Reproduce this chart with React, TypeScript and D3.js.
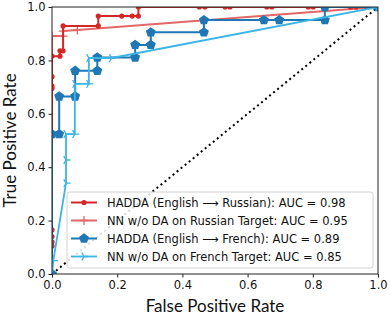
import * as d3 from 'd3';
import React, { useEffect, useRef } from 'react';

// ROC curves: [FPR, TPR]
const haddaRussian: [number, number][] = [
    [0, 0], [0, 0.105], [0, 0.12], [0, 0.14], [0, 0.165], [0, 0.695], [0, 0.704], [0, 0.739],
    [0, 0.816], [0.0245, 0.816], [0.0245, 0.836], [0.034, 0.836], [0.034, 0.929],
    [0.142, 0.929], [0.142, 0.966], [0.214, 0.966], [0.246, 0.966], [0.265, 0.966],
    [0.265, 1], [0.452, 1], [0.469, 1], [0.531, 1], [0.546, 1], [0.659, 1], [0.674, 1],
    [0.786, 1], [0.801, 1], [0.916, 1], [0.933, 1], [0.965, 1], [1, 1]
];
const nnRussian: [number, number][] = [
    [0, 0], [0, 0.891], [0.034, 0.891], [0.034, 0.91], [0.078, 0.914], [1, 1]
];
const haddaFrench: [number, number][] = [
    [0, 0], [0, 0.524], [0.022, 0.524], [0.022, 0.665], [0.071, 0.665], [0.071, 0.761],
    [0.139, 0.761], [0.139, 0.811], [0.255, 0.811], [0.255, 0.858], [0.303, 0.858],
    [0.303, 0.905], [0.466, 0.905], [0.466, 0.951], [0.65, 0.951], [0.697, 0.951],
    [0.837, 0.951], [0.837, 1], [1, 1]
];
const nnFrench: [number, number][] = [
    [0, 0], [0.004, 0.05], [0.043, 0.34], [0.043, 0.427], [0.043, 0.524], [0.07, 0.524],
    [0.07, 0.712], [0.113, 0.712], [0.113, 0.809], [0.183, 0.809], [1, 1]
];

const legendLabels = [
    'HADDA (English \u27F6 Russian): AUC = 0.98',
    'NN w/o DA on Russian Target: AUC = 0.95',
    'HADDA (English \u27F6 French): AUC = 0.89',
    'NN w/o DA on French Target: AUC = 0.85'
];
const ticks = [0, 0.2, 0.4, 0.6, 0.8, 1.0];

type MarkerKind = 'dot' | 'plus' | 'pentagon' | 'tri';

const App: React.FC = () => {
    const svgRef = useRef<SVGSVGElement>(null);

    useEffect(() => {
        if (!svgRef.current) return;
        d3.select(svgRef.current).selectAll('*').remove();

        const width = 390;
        const height = 319;
        const margin = { left: 52, right: 12, top: 7, bottom: 45 };

        const svg = d3.select(svgRef.current)
            .attr('width', width)
            .attr('height', height);

        const x = d3.scaleLinear().domain([0, 1]).range([margin.left, width - margin.right]);
        const y = d3.scaleLinear().domain([0, 1]).range([height - margin.bottom, margin.top]);

        svg.append('defs').append('clipPath')
            .attr('id', 'plot-clip')
            .append('rect')
            .attr('x', x(0)).attr('y', y(1))
            .attr('width', x(1) - x(0)).attr('height', y(0) - y(1));

        const plot = svg.append('g').attr('clip-path', 'url(#plot-clip)');

        // chance diagonal
        plot.append('line')
            .attr('x1', x(0)).attr('y1', y(0))
            .attr('x2', x(1)).attr('y2', y(1))
            .attr('stroke', '#000')
            .attr('stroke-width', 2)
            .attr('stroke-dasharray', '2,3.2');

        const drawMarker = (g: d3.Selection<SVGGElement, unknown, null, undefined>, kind: MarkerKind, cx: number, cy: number, color: string) => {
            if (kind === 'dot') {
                g.append('circle').attr('cx', cx).attr('cy', cy).attr('r', 2.6).attr('fill', color);
            } else if (kind === 'pentagon') {
                const r = 5.2;
                const pts = d3.range(5).map(i => {
                    const a = -Math.PI / 2 + i * 2 * Math.PI / 5;
                    return [cx + r * Math.cos(a), cy + r * Math.sin(a)];
                });
                g.append('polygon').attr('points', pts.map(p => p.join(',')).join(' ')).attr('fill', color);
            } else if (kind === 'plus') {
                const s = 4.5;
                g.append('path')
                    .attr('d', `M${cx - s},${cy}H${cx + s}M${cx},${cy - s}V${cy + s}`)
                    .attr('stroke', color).attr('stroke-width', 1.3);
            } else {
                const s = 4.5;
                const arms = [0, 120, 240].map(deg => {
                    const a = deg * Math.PI / 180;
                    return `M${cx},${cy}L${cx + s * Math.cos(a)},${cy - s * Math.sin(a)}`;
                }).join('');
                g.append('path').attr('d', arms).attr('stroke', color).attr('stroke-width', 1.3);
            }
        };

        const series: { data: [number, number][]; color: string; opacity: number; width: number; marker: MarkerKind }[] = [
            { data: haddaRussian, color: '#d62728', opacity: 1, width: 2, marker: 'dot' },
            { data: nnRussian, color: '#d62728', opacity: 0.7, width: 2, marker: 'plus' },
            { data: haddaFrench, color: '#1f77b4', opacity: 1, width: 2, marker: 'pentagon' },
            { data: nnFrench, color: '#3cb4e6', opacity: 1, width: 1.8, marker: 'tri' }
        ];

        const line = d3.line<[number, number]>().x(d => x(d[0])).y(d => y(d[1]));

        series.forEach((s) => {
            const g = plot.append('g').attr('opacity', s.opacity);
            g.append('path')
                .attr('d', line(s.data))
                .attr('fill', 'none')
                .attr('stroke', s.color)
                .attr('stroke-width', s.width)
                .attr('stroke-linejoin', 'round');
            s.data.forEach(d => drawMarker(g, s.marker, x(d[0]), y(d[1]), s.color));
        });

        // frame
        svg.append('rect')
            .attr('x', x(0)).attr('y', y(1))
            .attr('width', x(1) - x(0)).attr('height', y(0) - y(1))
            .attr('fill', 'none')
            .attr('stroke', '#222')
            .attr('stroke-width', 1);

        const xAxis = svg.append('g')
            .attr('transform', `translate(0,${y(0)})`)
            .call(d3.axisBottom(x).tickValues(ticks).tickSize(3.5).tickPadding(3).tickFormat(d3.format('.1f')));
        const yAxis = svg.append('g')
            .attr('transform', `translate(${x(0)},0)`)
            .call(d3.axisLeft(y).tickValues(ticks).tickSize(3.5).tickPadding(3).tickFormat(d3.format('.1f')));
        [xAxis, yAxis].forEach(a => {
            a.select('.domain').remove();
            a.selectAll('line').attr('stroke', '#222');
            a.selectAll('text')
                .attr('font-family', 'DejaVu Sans')
                .attr('font-size', 11.5)
                .attr('fill', '#111');
        });

        // axis titles
        svg.append('text')
            .attr('x', (x(0) + x(1)) / 2)
            .attr('y', 312)
            .attr('text-anchor', 'middle')
            .attr('font-family', 'Lato')
            .attr('font-size', 17)
            .attr('fill', '#111')
            .text('False Positive Rate');
        svg.append('text')
            .attr('transform', `translate(16,${(y(0) + y(1)) / 2}) rotate(-90)`)
            .attr('text-anchor', 'middle')
            .attr('font-family', 'Lato')
            .attr('font-size', 17)
            .attr('fill', '#111')
            .text('True Positive Rate');

        // legend
        const lg = svg.append('g');
        lg.append('rect')
            .attr('x', 67).attr('y', 192)
            .attr('width', 306).attr('height', 76)
            .attr('rx', 2.5)
            .attr('fill', 'white')
            .attr('fill-opacity', 0.85)
            .attr('stroke', '#d0d0d0')
            .attr('stroke-width', 1);
        series.forEach((s, i) => {
            const cy = 202.5 + i * 18;
            const g = lg.append('g').attr('opacity', s.opacity);
            g.append('line')
                .attr('x1', 71).attr('x2', 97)
                .attr('y1', cy).attr('y2', cy)
                .attr('stroke', s.color)
                .attr('stroke-width', s.width);
            drawMarker(g, s.marker, 84, cy, s.color);
            lg.append('text')
                .attr('x', 107)
                .attr('y', cy)
                .attr('dy', '0.35em')
                .attr('font-family', 'DejaVu Sans')
                .attr('font-size', 11.5)
                .attr('fill', '#111')
                .text(legendLabels[i]);
        });
    }, []);

    return (
        <svg ref={svgRef} style={{ position: 'absolute', left: 0, top: 0 }}></svg>
    );
};

export default App;
